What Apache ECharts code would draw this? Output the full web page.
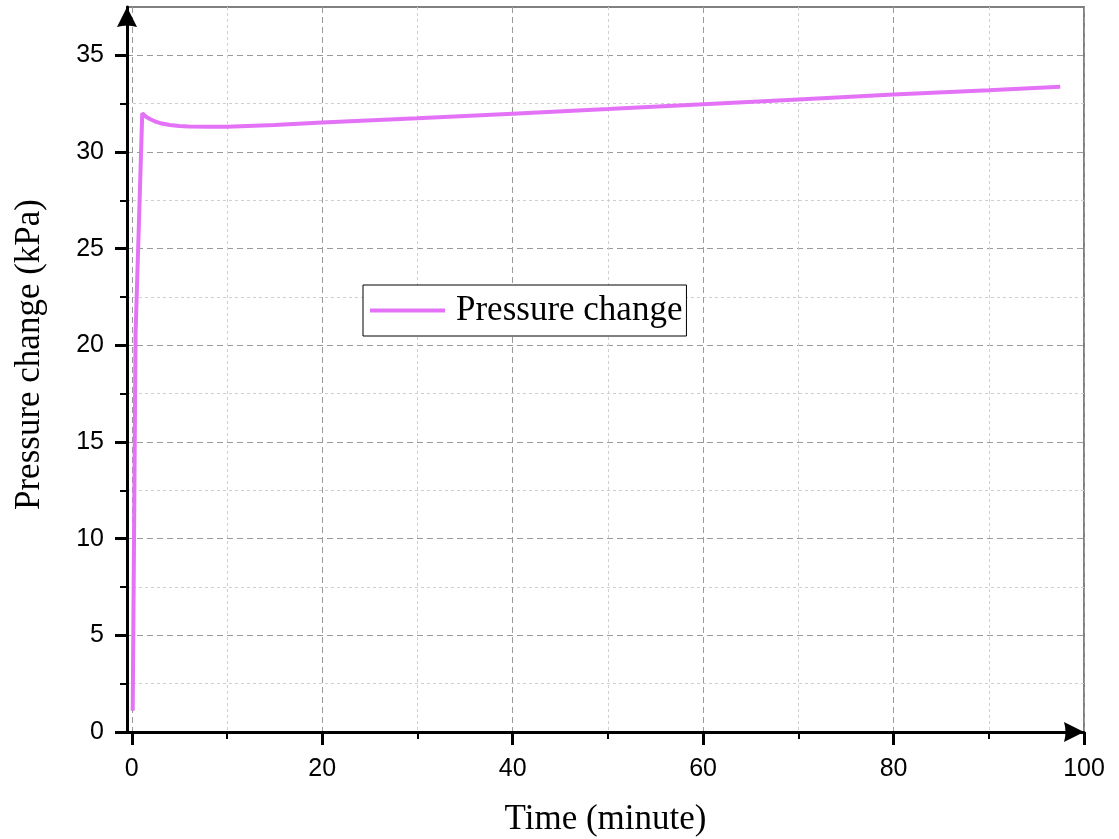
<!DOCTYPE html>
<html>
<head>
<meta charset="utf-8">
<script src="https://cdn.jsdelivr.net/npm/echarts@6/dist/echarts.min.js"></script>
<style>
  html, body { margin: 0; padding: 0; background: #fff; }
  #chart { width: 1119px; height: 839px; }
</style>
</head>
<body>
<div id="chart"></div>
<script>
  // time in minutes, pressure change in kPa
  var timeMin = [0.1, 0.4, 1.1, 1.5, 2, 2.5, 3, 4, 5, 6, 8, 10, 15, 20, 30, 40, 50, 60, 70, 80, 90, 97.5];
  var pressure = [1.1, 20.6, 32.0, 31.82, 31.68, 31.57, 31.49, 31.4, 31.35, 31.32, 31.3, 31.31, 31.4, 31.52, 31.74, 31.98, 32.22, 32.47, 32.72, 32.97, 33.2, 33.38];
  var xTicks = [0, 20, 40, 60, 80, 100];
  var yTicks = [0, 5, 10, 15, 20, 25, 30, 35];

  var seriesData = [];
  for (var i = 0; i < timeMin.length; i++) {
    seriesData.push([timeMin[i], pressure[i]]);
  }

  var lineColor = '#E472F7';
  var arrowPath = 'path://M10,0 L20,20 Q10,17 0,20 Z';

  var chart = echarts.init(document.getElementById('chart'));
  var option = {
    animation: false,
    backgroundColor: '#fff',
    grid: {
      left: 127, top: 7, width: 957, height: 725,
      containLabel: false, outerBoundsMode: 'none',
      show: true, borderColor: '#808080', borderWidth: 2, backgroundColor: 'transparent'
    },
    legend: {
      left: 363, top: 285,
      orient: 'horizontal',
      padding: [8, 4, 8, 7],
      borderColor: '#000', borderWidth: 1, backgroundColor: '#fff',
      itemWidth: 75, itemHeight: 4,
      icon: 'rect',
      textStyle: { fontFamily: 'Liberation Serif', fontSize: 35, color: '#000', padding: [0, 0, 0, 6] },
      data: ['Pressure change']
    },
    xAxis: {
      type: 'value',
      min: -0.5, max: 100,
      splitNumber: 5,
      name: 'Time (minute)',
      nameLocation: 'middle',
      nameGap: 70,
      nameTextStyle: { fontFamily: 'Liberation Serif', fontSize: 35, color: '#000' },
      axisLine: {
        show: true, onZero: false,
        lineStyle: { color: '#000', width: 3 },
        symbol: ['none', arrowPath], symbolSize: [20, 20], symbolOffset: [0, -10]
      },
      axisTick: { show: true, inside: false, length: 13, lineStyle: { color: '#000', width: 3 }, customValues: xTicks },
      minorTick: { show: true, splitNumber: 2, length: 7, lineStyle: { color: '#000', width: 2 } },
      axisLabel: {
        customValues: xTicks,
        fontFamily: 'Liberation Sans', fontSize: 25, color: '#000', margin: 25
      },
      splitLine: { show: true, lineStyle: { color: '#9a9a9a', type: [6, 4], width: 1 } },
      minorSplitLine: { show: true, lineStyle: { color: '#cfcfcf', type: [3, 3], width: 1 } }
    },
    yAxis: {
      type: 'value',
      min: 0, max: 37.5,
      interval: 5,
      name: 'Pressure change (kPa)',
      nameLocation: 'middle',
      nameGap: 80,
      nameTextStyle: { fontFamily: 'Liberation Serif', fontSize: 35, color: '#000', padding: [0, 0, 0, 30] },
      axisLine: {
        show: true, onZero: false,
        lineStyle: { color: '#000', width: 3 },
        symbol: ['none', arrowPath], symbolSize: [20, 20], symbolOffset: [0, -10]
      },
      axisTick: { show: true, inside: false, length: 12, lineStyle: { color: '#000', width: 3 }, customValues: yTicks },
      minorTick: { show: true, splitNumber: 2, length: 7, lineStyle: { color: '#000', width: 2 } },
      axisLabel: {
        customValues: yTicks,
        fontFamily: 'Liberation Sans', fontSize: 25, color: '#000', margin: 23
      },
      splitLine: { show: true, lineStyle: { color: '#9a9a9a', type: [6, 4], width: 1 } },
      minorSplitLine: { show: true, lineStyle: { color: '#cfcfcf', type: [3, 3], width: 1 } }
    },
    series: [{
      name: 'Pressure change',
      type: 'line',
      data: seriesData,
      symbol: 'none',
      smooth: false,
      lineStyle: { color: lineColor, width: 4 },
      itemStyle: { color: lineColor },
      z: 3
    }]
  };
  chart.setOption(option);
</script>
</body>
</html>
